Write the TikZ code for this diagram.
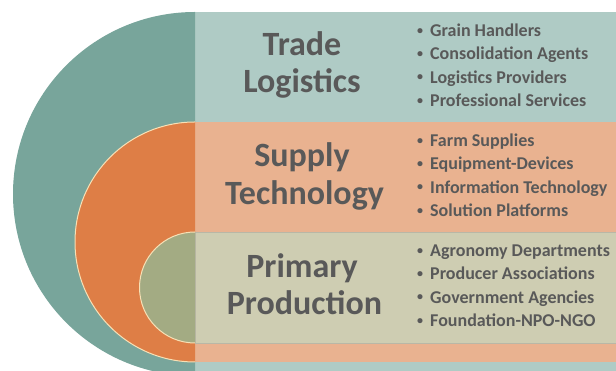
\documentclass[tikz,border=0pt]{standalone}
\usepackage{fontspec}
\setmainfont{Carlito}[BoldFont={Carlito Bold}]
\definecolor{tealdark}{HTML}{78A59B}
\definecolor{teallight}{HTML}{AFCBC5}
\definecolor{orangedark}{HTML}{DE7E46}
\definecolor{orangelight}{HTML}{E9B290}
\definecolor{olivedark}{HTML}{A3AB83}
\definecolor{olivelight}{HTML}{CECDB2}
\definecolor{creamline}{HTML}{F7E0B5}
\definecolor{bandline}{HTML}{B9B7A6}
\definecolor{textgray}{HTML}{595959}
\newcommand{\listdot}{\makebox[13pt][l]{\raisebox{2.5pt}{\fontsize{12}{12}\selectfont•}}}
\begin{document}
\begin{tikzpicture}[x=1pt,y=1pt,
  title/.style={anchor=base,inner sep=0pt,text=textgray,
    font=\fontsize{34}{37}\selectfont\bfseries},
  item/.style={anchor=base west,inner sep=0pt,text=textgray,
    font=\fontsize{18}{22}\selectfont\bfseries},
  rim/.style={draw=creamline,line width=1pt}]
\useasboundingbox (0,0) rectangle (616,371);
\begin{scope}
  \clip (0,0) rectangle (616,371);
  % outer ring: trade logistics
  \fill[teallight] (195,-20) rectangle (616,359);
  \fill[tealdark] (195,359) arc[start angle=90,end angle=270,radius=182] -- cycle;
  % middle ring: supply technology
  \fill[orangelight] (195,9) rectangle (616,249);
  \fill[orangedark] (195,249) arc[start angle=90,end angle=270,radius=120] -- cycle;
  \draw[rim] (195,249) arc[start angle=90,end angle=270,radius=120];
  % inner ring: primary production
  \fill[olivelight,draw=bandline,line width=0.7pt] (195,28) rectangle (620,139);
  \fill[olivedark] (195,139) arc[start angle=90,end angle=270,radius=55.5] -- cycle;
  \draw[rim] (195,139) arc[start angle=90,end angle=270,radius=55.5];
\end{scope}
% ring titles
\node[title] (trade1) at (302,315) {Trade};
\node[title] (trade2) at (302,278) {Logistics};
\node[title] (supply1) at (302,204) {Supply};
\node[title] (supply2) at (304.5,166) {Technology};
\node[title] (prim1) at (302,93) {Primary};
\node[title] (prim2) at (304.5,56) {Production};
% member lists
\foreach \txt [count=\i] in {Grain Handlers,Consolidation Agents,Logistics Providers,Professional Services}
  \node[item] (tl\i) at (417,{334.3-23.3*(\i-1)}) {\listdot\txt};
\foreach \txt [count=\i] in {Farm Supplies,Equipment-Devices,Information Technology,Solution Platforms}
  \node[item] (st\i) at (417,{224.3-23.3*(\i-1)}) {\listdot\txt};
\foreach \txt [count=\i] in {Agronomy Departments,Producer Associations,Government Agencies,Foundation-NPO-NGO}
  \node[item] (pp\i) at (417,{114.3-23.3*(\i-1)}) {\listdot\txt};
\end{tikzpicture}
\end{document}
